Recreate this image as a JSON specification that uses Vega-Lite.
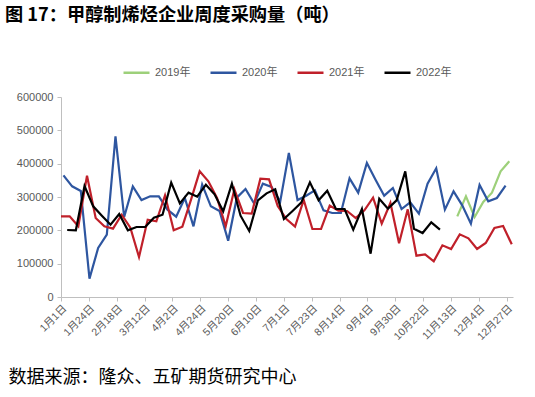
{
  "$schema": "https://vega.github.io/schema/vega-lite/v6.json",
  "width": 452,
  "height": 200,
  "autosize": "none",
  "padding": {"left": 61, "top": 97, "right": 22, "bottom": 100},
  "background": "white",
  "title": {"text": "图 17：甲醇制烯烃企业周度采购量（吨）", "anchor": "start", "dx": -3, "fontSize": 18.2, "fontWeight": "bold", "font": "Noto Sans CJK SC", "color": "#000000", "offset": 33},
  "data": {"values": [
    {"year": "2019年", "day": 320, "value": 242000}, {"year": "2019年", "day": 327, "value": 302000}, {"year": "2019年", "day": 334, "value": 240000}, {"year": "2019年", "day": 341, "value": 285000}, {"year": "2019年", "day": 348, "value": 313000}, {"year": "2019年", "day": 355, "value": 377000}, {"year": "2019年", "day": 362, "value": 407000},
    {"year": "2020年", "day": 2, "value": 365000}, {"year": "2020年", "day": 9, "value": 332000}, {"year": "2020年", "day": 16, "value": 318000}, {"year": "2020年", "day": 23, "value": 55000}, {"year": "2020年", "day": 30, "value": 147000}, {"year": "2020年", "day": 37, "value": 187000}, {"year": "2020年", "day": 44, "value": 482000}, {"year": "2020年", "day": 51, "value": 240000}, {"year": "2020年", "day": 58, "value": 332000}, {"year": "2020年", "day": 65, "value": 291000}, {"year": "2020年", "day": 72, "value": 302000}, {"year": "2020年", "day": 79, "value": 302000}, {"year": "2020年", "day": 86, "value": 262000}, {"year": "2020年", "day": 93, "value": 241000}, {"year": "2020年", "day": 100, "value": 297000}, {"year": "2020年", "day": 107, "value": 212000}, {"year": "2020年", "day": 114, "value": 337000}, {"year": "2020年", "day": 121, "value": 272000}, {"year": "2020年", "day": 128, "value": 258000}, {"year": "2020年", "day": 135, "value": 169000}, {"year": "2020年", "day": 142, "value": 298000}, {"year": "2020年", "day": 149, "value": 324000}, {"year": "2020年", "day": 156, "value": 280000}, {"year": "2020年", "day": 163, "value": 340000}, {"year": "2020年", "day": 170, "value": 330000}, {"year": "2020年", "day": 177, "value": 286000}, {"year": "2020年", "day": 184, "value": 432000}, {"year": "2020年", "day": 191, "value": 291000}, {"year": "2020年", "day": 198, "value": 304000}, {"year": "2020年", "day": 205, "value": 320000}, {"year": "2020年", "day": 212, "value": 260000}, {"year": "2020年", "day": 219, "value": 252000}, {"year": "2020年", "day": 226, "value": 252000}, {"year": "2020年", "day": 233, "value": 356000}, {"year": "2020年", "day": 240, "value": 313000}, {"year": "2020年", "day": 247, "value": 402000}, {"year": "2020年", "day": 254, "value": 352000}, {"year": "2020年", "day": 261, "value": 304000}, {"year": "2020年", "day": 268, "value": 327000}, {"year": "2020年", "day": 275, "value": 264000}, {"year": "2020年", "day": 282, "value": 284000}, {"year": "2020年", "day": 289, "value": 250000}, {"year": "2020年", "day": 296, "value": 340000}, {"year": "2020年", "day": 303, "value": 386000}, {"year": "2020年", "day": 310, "value": 262000}, {"year": "2020年", "day": 317, "value": 317000}, {"year": "2020年", "day": 324, "value": 275000}, {"year": "2020年", "day": 331, "value": 220000}, {"year": "2020年", "day": 338, "value": 336000}, {"year": "2020年", "day": 345, "value": 287000}, {"year": "2020年", "day": 352, "value": 297000}, {"year": "2020年", "day": 359, "value": 334000},
    {"year": "2021年", "day": 0, "value": 242000}, {"year": "2021年", "day": 7, "value": 242000}, {"year": "2021年", "day": 14, "value": 212000}, {"year": "2021年", "day": 21, "value": 364000}, {"year": "2021年", "day": 28, "value": 237000}, {"year": "2021年", "day": 35, "value": 212000}, {"year": "2021年", "day": 42, "value": 205000}, {"year": "2021年", "day": 49, "value": 247000}, {"year": "2021年", "day": 56, "value": 208000}, {"year": "2021年", "day": 63, "value": 120000}, {"year": "2021年", "day": 70, "value": 232000}, {"year": "2021年", "day": 77, "value": 227000}, {"year": "2021年", "day": 84, "value": 305000}, {"year": "2021年", "day": 91, "value": 200000}, {"year": "2021年", "day": 98, "value": 211000}, {"year": "2021年", "day": 105, "value": 292000}, {"year": "2021年", "day": 112, "value": 377000}, {"year": "2021年", "day": 119, "value": 347000}, {"year": "2021年", "day": 126, "value": 297000}, {"year": "2021年", "day": 133, "value": 212000}, {"year": "2021年", "day": 140, "value": 323000}, {"year": "2021年", "day": 147, "value": 252000}, {"year": "2021年", "day": 154, "value": 250000}, {"year": "2021年", "day": 161, "value": 355000}, {"year": "2021年", "day": 168, "value": 353000}, {"year": "2021年", "day": 175, "value": 273000}, {"year": "2021年", "day": 182, "value": 234000}, {"year": "2021年", "day": 189, "value": 211000}, {"year": "2021年", "day": 196, "value": 291000}, {"year": "2021年", "day": 203, "value": 204000}, {"year": "2021年", "day": 210, "value": 204000}, {"year": "2021年", "day": 217, "value": 274000}, {"year": "2021年", "day": 224, "value": 259000}, {"year": "2021年", "day": 231, "value": 258000}, {"year": "2021年", "day": 238, "value": 237000}, {"year": "2021年", "day": 245, "value": 260000}, {"year": "2021年", "day": 252, "value": 298000}, {"year": "2021年", "day": 259, "value": 220000}, {"year": "2021年", "day": 266, "value": 282000}, {"year": "2021年", "day": 273, "value": 161000}, {"year": "2021年", "day": 280, "value": 263000}, {"year": "2021年", "day": 287, "value": 124000}, {"year": "2021年", "day": 294, "value": 128000}, {"year": "2021年", "day": 301, "value": 107000}, {"year": "2021年", "day": 308, "value": 155000}, {"year": "2021年", "day": 315, "value": 144000}, {"year": "2021年", "day": 322, "value": 188000}, {"year": "2021年", "day": 329, "value": 176000}, {"year": "2021年", "day": 336, "value": 144000}, {"year": "2021年", "day": 343, "value": 162000}, {"year": "2021年", "day": 350, "value": 207000}, {"year": "2021年", "day": 357, "value": 213000}, {"year": "2021年", "day": 364, "value": 158000},
    {"year": "2022年", "day": 5, "value": 201000}, {"year": "2022年", "day": 12, "value": 200000}, {"year": "2022年", "day": 19, "value": 333000}, {"year": "2022年", "day": 26, "value": 272000}, {"year": "2022年", "day": 33, "value": 244000}, {"year": "2022年", "day": 40, "value": 217000}, {"year": "2022年", "day": 47, "value": 249000}, {"year": "2022年", "day": 54, "value": 200000}, {"year": "2022年", "day": 61, "value": 210000}, {"year": "2022年", "day": 68, "value": 210000}, {"year": "2022年", "day": 75, "value": 238000}, {"year": "2022年", "day": 82, "value": 247000}, {"year": "2022年", "day": 89, "value": 343000}, {"year": "2022年", "day": 96, "value": 281000}, {"year": "2022年", "day": 103, "value": 313000}, {"year": "2022年", "day": 110, "value": 301000}, {"year": "2022年", "day": 117, "value": 337000}, {"year": "2022年", "day": 124, "value": 308000}, {"year": "2022年", "day": 131, "value": 257000}, {"year": "2022年", "day": 138, "value": 340000}, {"year": "2022年", "day": 145, "value": 244000}, {"year": "2022年", "day": 152, "value": 198000}, {"year": "2022年", "day": 159, "value": 290000}, {"year": "2022年", "day": 166, "value": 311000}, {"year": "2022年", "day": 173, "value": 323000}, {"year": "2022年", "day": 180, "value": 234000}, {"year": "2022年", "day": 187, "value": 258000}, {"year": "2022年", "day": 194, "value": 283000}, {"year": "2022年", "day": 201, "value": 344000}, {"year": "2022年", "day": 208, "value": 290000}, {"year": "2022年", "day": 215, "value": 319000}, {"year": "2022年", "day": 222, "value": 264000}, {"year": "2022年", "day": 229, "value": 264000}, {"year": "2022年", "day": 236, "value": 202000}, {"year": "2022年", "day": 243, "value": 264000}, {"year": "2022年", "day": 250, "value": 130000}, {"year": "2022年", "day": 257, "value": 295000}, {"year": "2022年", "day": 264, "value": 265000}, {"year": "2022年", "day": 271, "value": 290000}, {"year": "2022年", "day": 278, "value": 377000}, {"year": "2022年", "day": 285, "value": 205000}, {"year": "2022年", "day": 292, "value": 192000}, {"year": "2022年", "day": 299, "value": 224000}, {"year": "2022年", "day": 306, "value": 202000}
  ]},
  "mark": {"type": "line", "strokeWidth": 2.2, "clip": false},
  "encoding": {
    "x": {
      "field": "day", "type": "quantitative",
      "scale": {"domain": [0, 365], "nice": false, "zero": false},
      "axis": {
        "values": [0, 22.5, 45, 67.5, 90, 112.5, 135, 157.5, 180, 202.5, 225, 247.5, 270, 292.5, 315, 337.5, 360],
        "labelExpr": "['1月1日','1月24日','2月18日','3月12日','4月2日','4月24日','5月20日','6月10日','7月1日','7月23日','8月14日','9月4日','9月30日','10月22日','11月13日','12月4日','12月27日'][round(datum.value/22.5)]",
        "labelAngle": -45, "labelFontSize": 10.5, "labelColor": "#595959", "labelFont": "Liberation Sans, Noto Sans CJK SC",
        "labelOverlap": false, "labelFlush": false, "labelBound": false, "labelPadding": 2,
        "domainColor": "#BFBFBF", "domainWidth": 1, "tickColor": "#BFBFBF", "tickSize": 4, "grid": false,
        "title": "数据来源：隆众、五矿期货研究中心", "titleAnchor": "start", "titleAlign": "left", "titleX": -53, "titleY": 80, "titleBaseline": "middle",
        "titleFontSize": 18, "titleFontWeight": "normal", "titleColor": "#000000", "titleFont": "Noto Sans CJK SC"
      }
    },
    "y": {
      "field": "value", "type": "quantitative",
      "scale": {"domain": [0, 600000], "nice": false},
      "axis": {
        "values": [0, 100000, 200000, 300000, 400000, 500000, 600000], "format": "d",
        "labelFontSize": 11, "labelColor": "#595959", "labelFont": "Liberation Sans", "labelPadding": 4,
        "domainColor": "#BFBFBF", "tickColor": "#BFBFBF", "tickSize": 4, "grid": false, "title": null
      }
    },
    "color": {
      "field": "year", "type": "nominal",
      "scale": {"domain": ["2019年", "2020年", "2021年", "2022年"], "range": ["#9DD07A", "#2E56A0", "#C0202A", "#000000"]},
      "legend": {
        "orient": "none", "legendX": 61, "legendY": -39, "direction": "horizontal", "title": null,
        "symbolType": "stroke", "symbolSize": 676, "symbolStrokeWidth": 2.5,
        "labelFontSize": 11, "labelColor": "#595959", "labelFont": "Liberation Sans, Noto Sans CJK SC",
        "labelOffset": 4, "columnPadding": 14
      }
    }
  },
  "config": {"view": {"stroke": null}}
}
